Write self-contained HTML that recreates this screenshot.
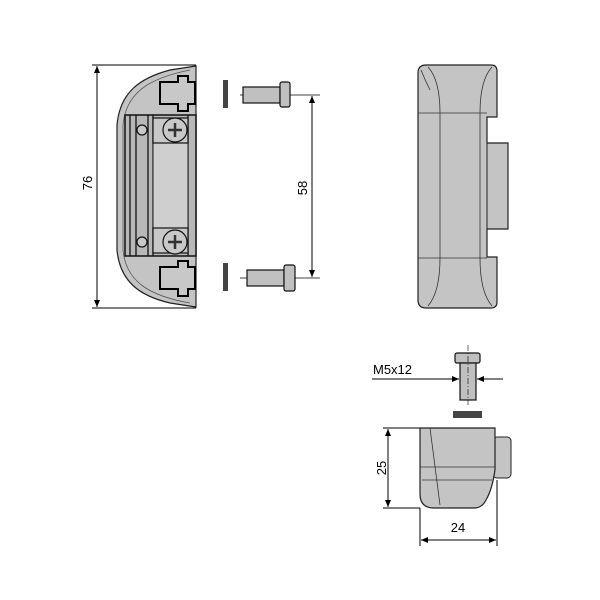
<!DOCTYPE html>
<html><head><meta charset="utf-8"><style>html,body{margin:0;padding:0;background:#fff}svg{display:block}</style></head>
<body>
<svg width="600" height="600" viewBox="0 0 600 600" xmlns="http://www.w3.org/2000/svg" font-family="Liberation Sans, sans-serif">
<defs>
<marker id="a" markerWidth="8" markerHeight="8" refX="7" refY="3" orient="auto-start-reverse" markerUnits="userSpaceOnUse"><path d="M0,0 L7,3 L0,6z" fill="#000"/></marker>
</defs>
<g stroke="#000" stroke-width="1" fill="none">
<line x1="92" y1="65" x2="196" y2="65"/><line x1="92" y1="308" x2="196" y2="308"/>
<line x1="97" y1="66" x2="97" y2="307" marker-start="url(#a)" marker-end="url(#a)"/>
<line x1="240" y1="95" x2="320" y2="95" stroke-width="0.7"/><line x1="240" y1="278" x2="320" y2="278" stroke-width="0.7"/>
<line x1="312" y1="96" x2="312" y2="277" marker-start="url(#a)" marker-end="url(#a)"/>
</g>
<text x="92" y="183" font-size="13" transform="rotate(-90 92 183)" text-anchor="middle">76</text>
<text x="307" y="188" font-size="13" transform="rotate(-90 307 188)" text-anchor="middle">58</text>
<path d="M196,66 L170,70 C140,78 120,92 117,125 L117,250 C120,282 140,296 170,303 L196,307 Z" fill="#c4c4c4" stroke="#222" stroke-width="1.2"/>
<path d="M190,70 C150,78 126,92 123,125 L123,250 C126,282 150,296 190,303" fill="none" stroke="#555" stroke-width="0.8"/>
<rect x="125" y="115" width="71" height="141" fill="#b8b8b8" stroke="#111" stroke-width="1.5"/>
<g stroke="#111" stroke-width="1.3">
<line x1="130" y1="115" x2="130" y2="256"/><line x1="136" y1="115" x2="136" y2="256"/>
<line x1="148" y1="115" x2="148" y2="256"/><line x1="153" y1="115" x2="153" y2="256"/>
<line x1="188" y1="115" x2="188" y2="256"/>
</g>
<rect x="153" y="143" width="35" height="85" fill="#cfcfcf" stroke="#222"/>
<g fill="#c8c8c8" stroke="#111" stroke-width="1.2">
<rect x="153" y="118" width="35" height="25"/><rect x="153" y="228" width="35" height="25"/>
<circle cx="142" cy="130" r="5"/><circle cx="142" cy="242" r="5"/>
<circle cx="175" cy="130" r="12"/><circle cx="175" cy="242" r="12"/>
</g>
<g stroke="#333" stroke-width="2.5" fill="none">
<path d="M168,130 H182 M175,123 V137"/><path d="M168,242 H182 M175,235 V249"/>
</g>
<g fill="#c8c8c8" stroke="#000" stroke-width="2">
<path d="M160,82 H178 V76 H188 V82 H195 V104 H188 V111 H178 V104 H160 Z"/>
<path d="M160,267 H178 V261 H188 V267 H195 V289 H188 V296 H178 V289 H160 Z"/>
</g>
<g fill="#c0c0c0" stroke="#111" stroke-width="1.2">
<rect x="243" y="87" width="37" height="16"/><rect x="280" y="82" width="10" height="25" rx="2"/>
<rect x="247" y="270" width="37" height="16"/><rect x="284" y="265" width="11" height="26" rx="2"/>
</g>
<rect x="223" y="80" width="5" height="28" fill="#444"/>
<rect x="223" y="263" width="5" height="28" fill="#444"/>
<path d="M426,65 H491 Q497,65 497,71 V117 H487 V143 H508 V229 H487 V257 H497 V302 Q497,308 491,308 H426 Q418,308 418,300 V73 Q418,65 426,65 Z" fill="#c4c4c4" stroke="#222" stroke-width="1.2"/>
<line x1="487" y1="143" x2="487" y2="229" stroke="#222"/>
<g stroke="#333" stroke-width="0.8" fill="none">
<line x1="418" y1="113" x2="487" y2="113"/><line x1="418" y1="258" x2="487" y2="258"/>
<path d="M428,67 Q440,80 440,113 V258 Q440,292 428,306"/>
<path d="M492,67 Q480,80 480,113 V258 Q480,292 492,306"/>
<path d="M421,70 Q425,80 430,90"/>
</g>
<g stroke="#000" stroke-width="1" fill="none">
<line x1="372" y1="379" x2="458" y2="379"/><line x1="478" y1="379" x2="503" y2="379"/>
<line x1="448" y1="379" x2="459" y2="379" marker-end="url(#a)"/><line x1="488" y1="379" x2="477" y2="379" marker-end="url(#a)"/>
<line x1="383" y1="428" x2="420" y2="428"/><line x1="383" y1="508" x2="420" y2="508"/>
<line x1="388" y1="429" x2="388" y2="507" marker-start="url(#a)" marker-end="url(#a)"/>
<line x1="420" y1="508" x2="420" y2="546"/><line x1="497" y1="480" x2="497" y2="546"/>
<line x1="421" y1="540" x2="496" y2="540" marker-start="url(#a)" marker-end="url(#a)"/>
</g>
<g fill="#c0c0c0" stroke="#111" stroke-width="1.2">
<rect x="455" y="353" width="25" height="10" rx="2"/><rect x="460" y="363" width="16" height="37"/>
</g>
<line x1="468" y1="345" x2="468" y2="405" stroke="#000" stroke-width="0.6" stroke-dasharray="6,2,1,2"/>
<text x="373" y="374" font-size="13">M5x12</text>
<rect x="453" y="411" width="29" height="7" fill="#444"/>
<rect x="493" y="437" width="18" height="41" rx="4" fill="#c4c4c4" stroke="#222"/>
<path d="M420,428 H495 V470 Q492,490 486,500 Q482,508 474,508 H434 Q420,508 420,494 Z" fill="#c4c4c4" stroke="#222" stroke-width="1.2"/>
<g stroke="#333" stroke-width="0.8" fill="none">
<line x1="420" y1="467" x2="495" y2="467"/><path d="M430,428 L440,505"/><line x1="422" y1="480" x2="492" y2="480"/>
</g>
<text x="458" y="532" font-size="13" text-anchor="middle">24</text>
<text x="386" y="468" font-size="13" transform="rotate(-90 386 468)" text-anchor="middle">25</text>
</svg>
</body></html>
